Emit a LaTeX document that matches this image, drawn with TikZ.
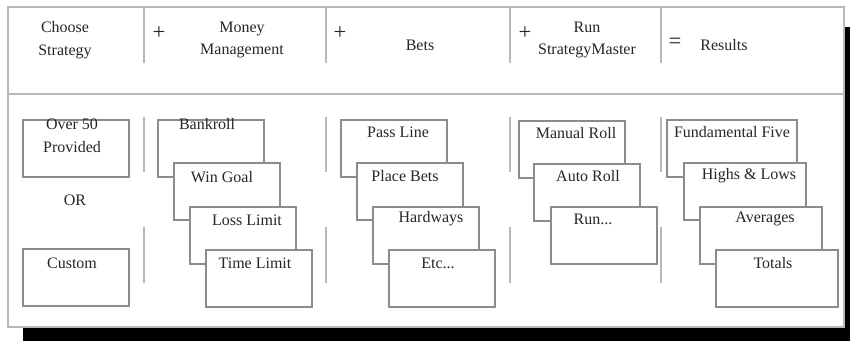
\documentclass[tikz,border=0pt]{standalone}
\usepackage{xcolor}
\usepackage{fontspec}
\setmainfont{Liberation Serif}
\usepackage{tikz}
\usetikzlibrary{shapes,positioning}

\definecolor{framegray}{gray}{0.55}
\definecolor{rulegray}{gray}{0.72}
\definecolor{inkgray}{gray}{0.15}

\tikzset{
    card/.style={
        rectangle,
        draw=framegray,
        line width=0.9pt,
        fill=white,
        anchor=north west,
        inner sep=0pt,
        outer sep=0pt,
        minimum width=79.5pt,
        minimum height=42.75pt
    },
    widecard/.style={card, minimum width=91.5pt},
    cardtext/.style={
        inner sep=0pt,
        text=inkgray,
        align=center,
        font=\fontsize{12}{17}\selectfont
    },
    signtext/.style={cardtext, font=\fontsize{17}{17}\selectfont},
    divider/.style={draw=rulegray, line width=1.3pt}
}

\begin{document}
\begin{tikzpicture}[x=0.75pt, y=-0.75pt]
    \useasboundingbox (0,0) rectangle (850,341);

    \fill[black] (23,27) rectangle (850,341);
    \draw[
        fill=white,
        draw=rulegray,
        line width=1.1pt
    ] (8,7) rectangle (844,327);

    \draw[divider] (8,94) -- (844,94);
    \foreach \x in {144,326,510,661} {
        \draw[divider] (\x,7) -- (\x,63);
        \draw[divider] (\x,117) -- (\x,172);
        \draw[divider] (\x,227) -- (\x,283);
    }

    % header row
    \node[cardtext] (choose) at (65,40) {Choose\\Strategy};
    \node[signtext] (plusA) at (159,33) {+};
    \node[cardtext] (money) at (242,40) {Money\\Management};
    \node[signtext] (plusB) at (340,33) {+};
    \node[cardtext] (bets) at (420,45) {Bets};
    \node[signtext] (plusC) at (525,33) {+};
    \node[cardtext] (run) at (587,40) {Run\\StrategyMaster};
    \node[signtext] (equals) at (675,43) {=};
    \node[cardtext] (results) at (724,45) {Results};

    % strategy
    \node[card] (over) at (23,120) {};
    \node[cardtext] (overT) at (72,136) {Over 50\\Provided};
    \node[cardtext] (or) at (75,200) {OR};
    \node[card] (custom) at (23,249) {};
    \node[cardtext] (customT) at (72,263) {Custom};

    % money management
    \node[card] (bankroll) at (158,120) {};
    \node[cardtext] (bankrollT) at (207,124) {Bankroll};
    \node[card] (wingoal) at (174,163) {};
    \node[cardtext] (wingoalT) at (222,177) {Win Goal};
    \node[card] (losslimit) at (190,207) {};
    \node[cardtext] (losslimitT) at (247,220) {Loss Limit};
    \node[card] (timelimit) at (206,250) {};
    \node[cardtext] (timelimitT) at (255,263) {Time Limit};

    % bets
    \node[card] (passline) at (341,120) {};
    \node[cardtext] (passlineT) at (398,132) {Pass Line};
    \node[card] (placebets) at (357,163) {};
    \node[cardtext] (placebetsT) at (405,176) {Place Bets};
    \node[card] (hardways) at (373,207) {};
    \node[cardtext] (hardwaysT) at (431,219) {Hardways};
    \node[card] (etc) at (389,250) {};
    \node[cardtext] (etcT) at (438,263) {Etc...};

    % run
    \node[card] (manual) at (519,121) {};
    \node[cardtext] (manualT) at (576,133) {Manual Roll};
    \node[card] (auto) at (534,164) {};
    \node[cardtext] (autoT) at (588,176) {Auto Roll};
    \node[card] (runmore) at (551,207) {};
    \node[cardtext] (runmoreT) at (593,219) {Run...};

    % results
    \node[widecard, minimum width=97.5pt] (fund) at (667,120) {};
    \node[cardtext] (fundT) at (732,132) {Fundamental Five};
    \node[widecard] (highs) at (684,163) {};
    \node[cardtext] (highsT) at (749,176) {Highs \& Lows};
    \node[widecard] (avg) at (700,207) {};
    \node[cardtext] (avgT) at (765,219) {Averages};
    \node[widecard] (totals) at (716,250) {};
    \node[cardtext] (totalsT) at (773,263) {Totals};
\end{tikzpicture}
\end{document}
